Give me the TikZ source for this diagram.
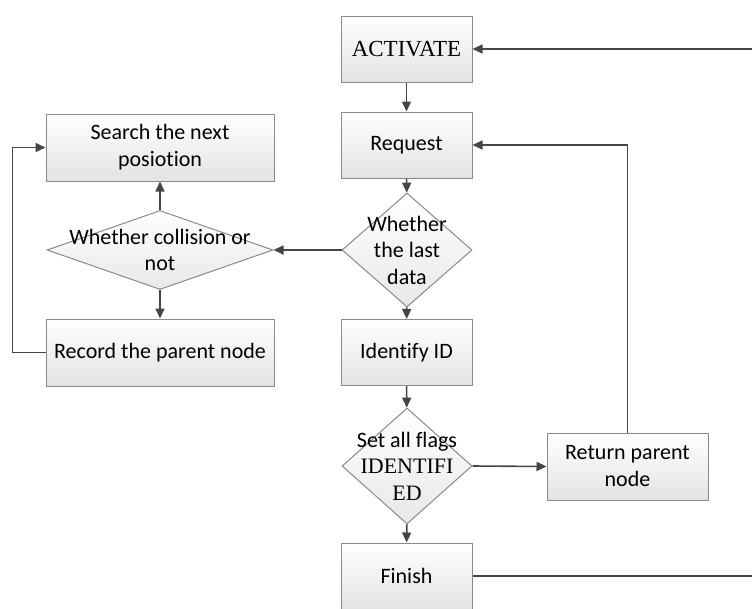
\documentclass[tikz,border=0pt]{standalone}
\usepackage{fontspec}
\setmainfont{Carlito}[Ligatures={NoCommon}]
\newfontfamily\tnr{Liberation Serif}
\usetikzlibrary{shapes.geometric,arrows.meta}
\definecolor{edge}{HTML}{8A8A8A}
\definecolor{wire}{HTML}{454545}
\tikzset{
  box/.style={draw=edge, line width=1pt, top color=white, bottom color=gray!22,
    minimum width=131pt, minimum height=66pt, inner sep=0pt, align=center,
    font=\fontsize{22}{27}\selectfont},
  widebox/.style={box, minimum width=228pt},
  dia/.style={draw=edge, line width=1pt, diamond, top color=white, bottom color=gray!18,
    inner sep=0pt},
  lbl/.style={align=center, inner sep=0pt, font=\fontsize{22}{26.5}\selectfont},
  conn/.style={draw=wire, line width=1.6pt, -{Triangle[length=10pt,width=9pt]}},
  plain/.style={draw=wire, line width=1.6pt},
}
\begin{document}
\begin{tikzpicture}[x=1pt,y=-1pt]
\useasboundingbox (0,0) rectangle (752,608);
% main column
\node[box] (act) at (406.5,49) {\fontsize{23}{27}\tnr ACTIVATE};
\node[box] (req) at (406.5,145) {Request};
\node[dia, minimum width=130pt, minimum height=114pt] (last) at (407,250) {};
\node[lbl] (lastt) at (last.center) {Whether\\the last\\data};
\node[box] (ident) at (406.5,352.5) {Identify ID};
\node[dia, minimum width=130pt, minimum height=116pt] (flags) at (407,466) {};
\node[lbl] (flagst) at (flags.center) {Set all flags\\{\tnr IDENTIFI}\\{\tnr ED}};
\node[box] (fin) at (406.5,576) {Finish};
\node[box, minimum width=161pt, minimum height=67pt] (ret) at (627.5,466.5) {Return parent\\node};
% left column
\node[widebox, minimum height=67pt] (search) at (160,147.5) {Search the next\\posiotion};
\node[dia, minimum width=226pt, minimum height=79pt] (coll) at (160,250) {};
\node[lbl] (collt) at (coll.center) {Whether collision or\\not};
\node[widebox, minimum height=67pt] (rec) at (160,352.5) {Record the parent node};
% right edge coordinates
\coordinate (eA) at (753,49);
\coordinate (eF) at (753,576);
% connectors
\draw[conn] (act) -- (req);
\draw[conn] (req) -- (last);
\draw[conn] (last) -- (ident);
\draw[conn] (ident) -- (flags);
\draw[conn] (flags) -- (fin);
\draw[conn] (flags.east) -- (ret.west);
\draw[conn] (ret.north) |- (req.east);
\draw[conn] (last.west) -- (coll.east);
\draw[conn] (coll.north) -- (search.south);
\draw[conn] (coll.south) -- (rec.north);
\draw[conn] (rec.west) -- ++(-33,0) |- (search.west);
\draw[conn] (eA) -- (act.east);
\draw[plain] (fin.east) -- (eF);
\end{tikzpicture}
\end{document}
